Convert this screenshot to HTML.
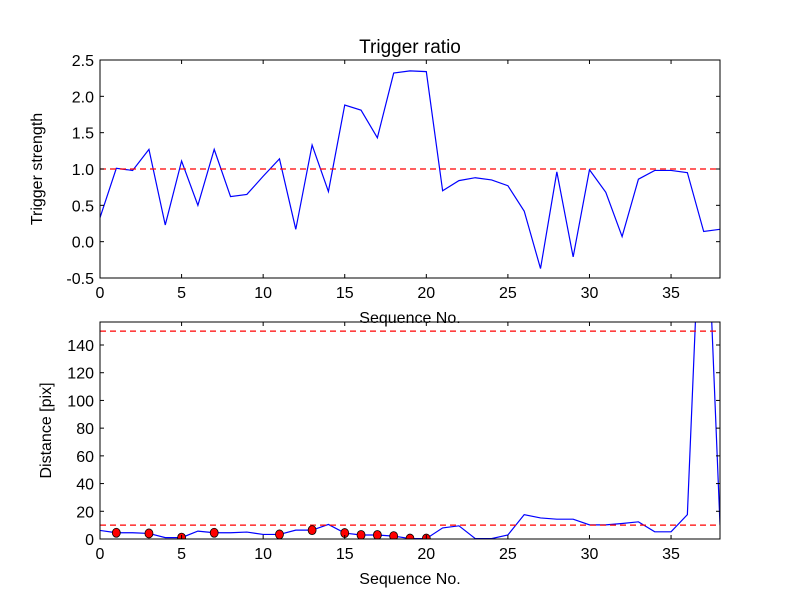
<!DOCTYPE html>
<html><head><meta charset="utf-8">
<style>body{margin:0;background:#fff}svg{display:block;font-family:"Liberation Sans","DejaVu Sans",sans-serif}</style>
</head><body>
<svg id="chart" width="800" height="600"></svg>
<script>
const seqTop = Array.from({length:39},(_,i)=>i);
const triggerStrength = [0.33,1.01,0.98,1.27,0.23,1.11,0.50,1.27,0.62,0.65,0.90,1.14,0.17,1.33,0.69,1.88,1.81,1.43,2.32,2.35,2.34,0.70,0.84,0.88,0.85,0.77,0.42,-0.37,0.96,-0.21,0.99,0.68,0.07,0.86,0.98,0.98,0.95,0.14,0.17];
const distance = [6.2,4.5,4.5,4,1,1,5.7,4.5,4.5,5,3.3,3.3,6.4,6.4,10.5,4.3,2.9,2.9,2.1,0.3,0.3,8,9.5,0.3,0.3,2.9,17.6,15.2,14.3,14.3,10.2,10.2,11.2,12.4,5.2,5.2,17.6,300,10];
const markerIdx = [1,3,5,7,11,13,15,16,17,18,19,20];
const topYTicks = [-0.5,0.0,0.5,1.0,1.5,2.0,2.5];
const botYTicks = [0,20,40,60,80,100,120,140];
const xTicks = [0,5,10,15,20,25,30,35];
const topThreshold = [1.0];
const botThresholds = [10,150];

const NS="http://www.w3.org/2000/svg";
const svg=document.getElementById('chart');
function mk(t,a,p){const e=document.createElementNS(NS,t);for(const k in a)e.setAttribute(k,a[k]);(p||svg).appendChild(e);return e;}
const L=100,R=720;
const xs=v=>L+(v-0)/(38-0)*(R-L);
function axes(top,bot,ymin,ymax,name){
  const ys=v=>bot-(v-ymin)/(ymax-ymin)*(bot-top);
  const g=mk('g',{});
  
  
  return {ys,g};
}
function frame(g,top,bot,ys,yt,fmt,ylab,name){
  const r=mk('rect',{x:L,y:top,width:R-L,height:bot-top,fill:'none',stroke:'#000','stroke-width':1},g);
  
  
  xTicks.forEach(t=>{const x=xs(t);
    mk('line',{x1:x,x2:x,y1:bot,y2:bot-4,stroke:'#000'},g);
    mk('line',{x1:x,x2:x,y1:top,y2:top+4,stroke:'#000'},g);
    const tx=mk('text',{x:x,y:bot+20,'text-anchor':'middle','font-size':16},g);tx.textContent=t;
    
    
  });
  yt.forEach(t=>{const y=ys(t);
    mk('line',{x1:L,x2:L+4,y1:y,y2:y,stroke:'#000'},g);
    mk('line',{x1:R,x2:R-4,y1:y,y2:y,stroke:'#000'},g);
    const tx=mk('text',{x:L-6,y:y+6,'text-anchor':'end','font-size':16},g);tx.textContent=fmt(t);
    
    
  });
  const yl=mk('text',{transform:`translate(${name==='top'?42:51},${(top+bot)/2}) rotate(-90)`,'text-anchor':'middle','font-size':16},g);
  yl.textContent=ylab;
  
  
  const xl=mk('text',{x:(L+R)/2,y:bot+45,'text-anchor':'middle','font-size':16},g);
  xl.textContent='Sequence No.';
  
  
}
// top
{const top=60,bot=278,ymin=-0.5,ymax=2.5;
 const {ys,g}=axes(top,bot,ymin,ymax,'top-panel');
 const cp=mk('clipPath',{id:'c1'});mk('rect',{x:L,y:top,width:R-L,height:bot-top},cp);
 const pl=mk('polyline',{points:seqTop.map((s,i)=>xs(s)+','+ys(triggerStrength[i])).join(' '),fill:'none',stroke:'#0000ff','stroke-width':1.2,'clip-path':'url(#c1)'},g);
 
 
 topThreshold.forEach(v=>{const l=mk('line',{x1:L,x2:R,y1:ys(v),y2:ys(v),stroke:'#ff0000','stroke-width':1.2,'stroke-dasharray':'6,4'},g);
  
  });
 frame(g,top,bot,ys,topYTicks,t=>t.toFixed(1),'Trigger strength','top');
 const ti=mk('text',{x:(L+R)/2,y:53,'text-anchor':'middle','font-size':19},g);ti.textContent='Trigger ratio';
 
 
}
// bottom
{const top=322,bot=539,ymin=0,ymax=156.6;
 const {ys,g}=axes(top,bot,ymin,ymax,'bottom-panel');
 const cp=mk('clipPath',{id:'c2'});mk('rect',{x:L,y:top,width:R-L,height:bot-top},cp);
 const pl=mk('polyline',{points:seqTop.map((s,i)=>xs(s)+','+ys(distance[i])).join(' '),fill:'none',stroke:'#0000ff','stroke-width':1.2,'clip-path':'url(#c2)'},g);
 
 
 botThresholds.forEach(v=>{const l=mk('line',{x1:L,x2:R,y1:ys(v),y2:ys(v),stroke:'#ff0000','stroke-width':1.2,'stroke-dasharray':'6,4'},g);
  
  });
 const mg=mk('g',{'clip-path':'url(#c2)'},g);
 markerIdx.forEach(i=>{const c=mk('ellipse',{cx:xs(seqTop[i]),cy:ys(distance[i]),rx:4,ry:4.5,fill:'#ff0000',stroke:'#000','stroke-width':0.8},mg);
  
  });
 frame(g,top,bot,ys,botYTicks,t=>t,'Distance [pix]','bottom');
}
</script>
</body></html>
